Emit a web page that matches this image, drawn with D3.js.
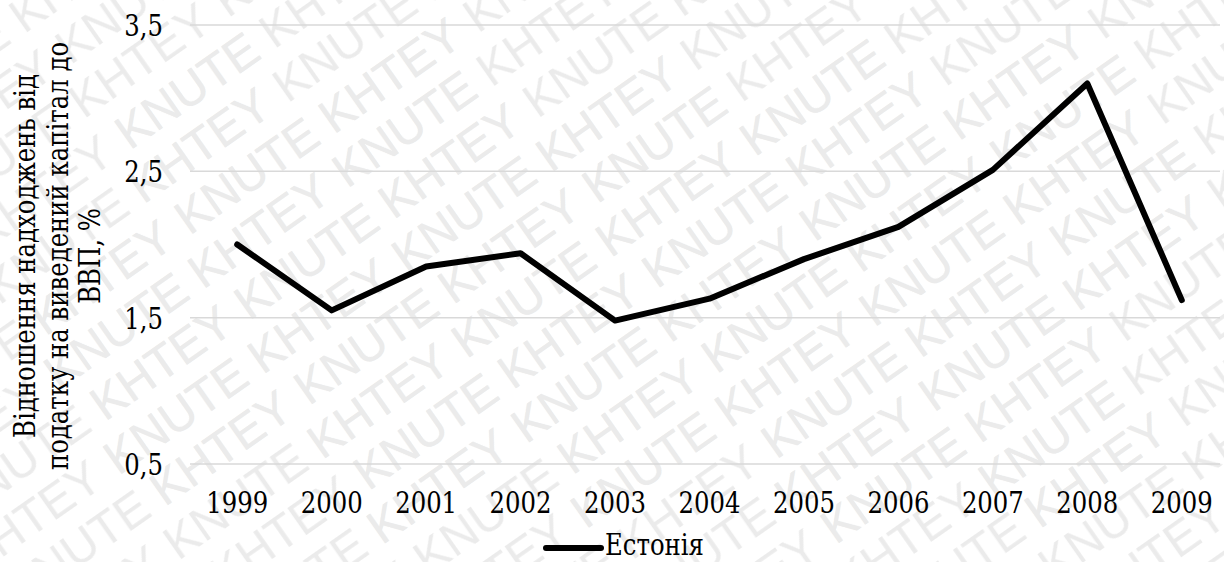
<!DOCTYPE html>
<html lang="uk">
<head>
<meta charset="utf-8">
<script src="https://cdn.jsdelivr.net/npm/d3@7/dist/d3.min.js"></script>
<style>
  html, body { margin: 0; padding: 0; background: #fff; }
  svg { display: block; }
</style>
</head>
<body>
<svg id="chart" width="1224" height="562"></svg>
<script>
// Ratio of capital gains tax revenue to GDP, Estonia
const years = ["1999", "2000", "2001", "2002", "2003", "2004", "2005", "2006", "2007", "2008", "2009"];
const estonia = [2.00, 1.55, 1.85, 1.94, 1.48, 1.63, 1.90, 2.12, 2.51, 3.10, 1.62];
const yTicks = [0.5, 1.5, 2.5, 3.5];
const seriesName = "Естонія";
const yTitleLines = ["Відношення надходжень від", "податку на виведений капітал до", "ВВП, %"];
const watermarkWords = ["KHTEY", "KNUTE"];

const W = 1224, H = 562;
const SERIF = "DejaVu Serif";
const SANS = "Liberation Sans, Arial, sans-serif";
const NARROW = "scale(0.84,1)";   // narrows the serif face to book-style proportions
const svg = d3.select("#chart");

svg.append("rect").attr("width", W).attr("height", H).attr("fill", "#fff");

// ---- diagonal watermark ----
const ANGLE = -35, WM_SIZE = 48, WM_FILL = "#ebebeb";
const rowH = 52, word2 = 176, tileW = 352, rowShift = 196;
const wmRows = [
  { v: rowH - 10, u0: 0 },
  { v: rowH * 2 - 10, u0: rowShift }
];

// tiled pattern fills the whole canvas, edges included
const pat = svg.append("defs").append("pattern")
  .attr("id", "wmark")
  .attr("patternUnits", "userSpaceOnUse")
  .attr("width", tileW).attr("height", rowH * 2)
  .attr("patternTransform", `rotate(${ANGLE})`);
wmRows.forEach(r => {
  [-tileW, 0, tileW].forEach(k => {
    watermarkWords.forEach((w, j) => {
      pat.append("text")
        .attr("x", r.u0 + k + j * word2).attr("y", r.v)
        .attr("font-family", SANS).attr("font-size", WM_SIZE)
        .attr("fill", WM_FILL).text(w);
    });
  });
});
svg.append("rect").attr("width", W).attr("height", H).attr("fill", "url(#wmark)");

// the same words as live text where they sit fully inside the canvas
const wmg = svg.append("g").attr("transform", `rotate(${ANGLE})`)
  .attr("font-family", SANS).attr("font-size", WM_SIZE).attr("fill", WM_FILL);
for (let n = -2; n < 26; n++) {
  const r = wmRows[((n % 2) + 2) % 2];
  const v = Math.floor(n / 2) * rowH * 2 + r.v;
  for (let m = -3; m < 6; m++) {
    watermarkWords.forEach((w, j) => {
      const t = wmg.append("text")
        .attr("x", r.u0 + m * tileW + j * word2).attr("y", v).text(w);
      const b = t.node().getBoundingClientRect();
      if (b.left < 0 || b.top < 0 || b.right > W || b.bottom > H) t.remove();
    });
  }
}

// ---- chart ----
const plotLeft = 190, plotRight = 1220;
const x = d3.scaleBand().domain(years).range([190, 1229]).paddingInner(0).paddingOuter(0);
const y = d3.scaleLinear().domain([0.5, 3.5]).range([464, 25]);
const cx = d => x(d) + x.bandwidth() / 2;
const fmt = v => d3.format(".1f")(v).replace(".", ",");

// Horizontal gridlines
svg.append("g").selectAll("line").data(yTicks).join("line")
  .attr("x1", plotLeft).attr("x2", plotRight)
  .attr("y1", d => y(d)).attr("y2", d => y(d))
  .attr("stroke", "#d9d9d9").attr("stroke-width", 1.5);

// Y axis labels
const yAxis = d3.axisLeft(y).tickValues(yTicks).tickFormat(fmt).tickSize(0).tickPadding(0);
const gy = svg.append("g").attr("transform", "translate(163,0)").call(yAxis)
  .attr("font-family", SERIF).attr("font-size", 29);
gy.select(".domain").remove();
gy.selectAll("text").attr("fill", "#000").attr("x", 0).attr("dy", "0.36em").attr("transform", NARROW);

// X axis labels
const xAxis = d3.axisBottom(x).tickSize(0).tickPadding(0);
const gx = svg.append("g").attr("transform", "translate(0,492)").call(xAxis)
  .attr("font-family", SERIF).attr("font-size", 29);
gx.select(".domain").remove();
gx.selectAll("text").attr("fill", "#000").attr("y", 0).attr("dy", "0.72em").attr("transform", NARROW);

// Series line
const line = d3.line().x((d, i) => cx(years[i])).y(d => y(d));
svg.append("path")
  .datum(estonia)
  .attr("d", line)
  .attr("fill", "none")
  .attr("stroke", "#000")
  .attr("stroke-width", 6)
  .attr("stroke-linejoin", "round")
  .attr("stroke-linecap", "round");

// Y axis title (three wrapped lines, rotated)
const titleX = [35, 68, 100];
const gt = svg.append("g").attr("font-family", SERIF).attr("font-size", 29).attr("fill", "#000");
yTitleLines.forEach((t, i) => {
  gt.append("text")
    .attr("transform", `translate(${titleX[i]},256) rotate(-90) ${NARROW}`)
    .attr("text-anchor", "middle")
    .text(t);
});

// Legend
const lg = svg.append("g").attr("font-family", SERIF).attr("font-size", 29);
lg.append("line")
  .attr("x1", 546).attr("x2", 601).attr("y1", 548).attr("y2", 548)
  .attr("stroke", "#000").attr("stroke-width", 6).attr("stroke-linecap", "round");
lg.append("text")
  .attr("transform", `translate(605,555) ${NARROW}`)
  .attr("fill", "#000").text(seriesName);
</script>
</body>
</html>
